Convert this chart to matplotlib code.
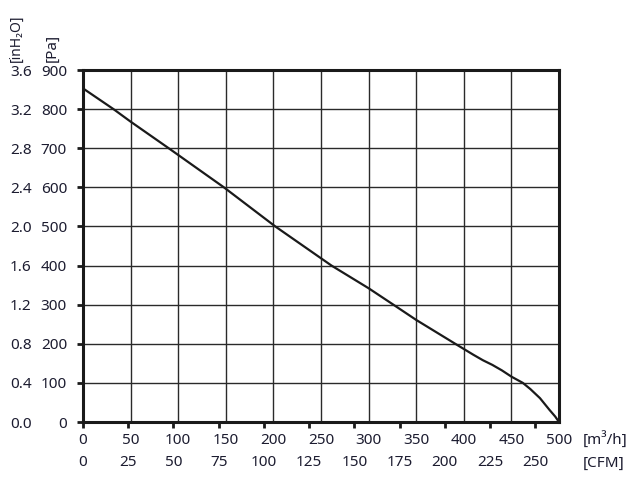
import matplotlib
matplotlib.use('Agg')
import matplotlib.pyplot as plt

plt.rcParams['font.family'] = ['Noto Sans', 'DejaVu Sans']
plt.rcParams['font.size'] = 11

txt = '#1c1c30'

# curve: airflow [m3/h] vs static pressure [Pa]
flow = [0, 32, 50, 90, 148, 202, 261, 300, 326, 350, 391, 410, 420, 430, 440, 450, 462, 470, 480, 490, 496, 500]
pa = [853, 800, 768, 700, 600, 500, 400, 342, 300, 261, 200, 172, 158, 146, 132, 116, 100, 84, 61, 31, 14, 0]

m3h_ticks = [0, 50, 100, 150, 200, 250, 300, 350, 400, 450, 500]
cfm_labels = [0, 25, 50, 75, 100, 125, 150, 175, 200, 225, 250]
cfm_pos = [c * 1.9 for c in cfm_labels]   # where the CFM labels sit on the m3/h scale
pa_ticks = [0, 100, 200, 300, 400, 500, 600, 700, 800, 900]
inh2o_ticks = [0.0, 0.4, 0.8, 1.2, 1.6, 2.0, 2.4, 2.8, 3.2, 3.6]

fig = plt.figure(figsize=(6.39, 4.8), dpi=100)
ax = fig.add_axes([83/639, 58/480, 476/639, 352/480])

ax.plot(flow, pa, color='#1a1a1a', lw=1.6, zorder=3, solid_joinstyle='round')

ax.set_xlim(0, 500)
ax.set_ylim(0, 900)

# m3/h labels on the grid lines, no tick marks
ax.set_xticks(m3h_ticks)
ax.set_xticklabels([str(v) for v in m3h_ticks])
ax.tick_params(axis='x', which='major', length=0, pad=8, colors=txt)
# CFM labels with the visible tick marks
ax.xaxis.remove_overlapping_locs = False
ax.set_xticks(cfm_pos, minor=True)
ax.set_xticklabels([str(v) for v in cfm_labels], minor=True)
ax.tick_params(axis='x', which='minor', length=4.5, width=2, direction='out',
               pad=19, labelsize=11, labelcolor=txt, color='#1a1a1a')

ax.set_yticks(pa_ticks)
ax.set_yticklabels([str(v) for v in pa_ticks])
ax.tick_params(axis='y', length=4.5, width=2, direction='out', pad=7,
               labelcolor=txt, color='#1a1a1a')

sec = ax.secondary_yaxis(0, functions=(lambda p: p * 0.004, lambda i: i / 0.004))
sec.set_yticks(inh2o_ticks)
sec.set_yticklabels([f'{v:.1f}' for v in inh2o_ticks])
sec.tick_params(length=0, pad=37, labelcolor=txt, labelsize=11)
sec.spines['left'].set_visible(False)

ax.grid(True, color='#2a2a2a', lw=1.0)
for s in ax.spines.values():
    s.set_linewidth(2.2)
    s.set_color('#1a1a1a')
    s.set_zorder(4)

fig.text(16/639, 1 - 62/480, '[inH\u2082O]', rotation=90, ha='center', va='bottom', color=txt, fontsize=10)
fig.text(52/639, 1 - 62/480, '[Pa]', rotation=90, ha='center', va='bottom', color=txt, fontsize=11)
fig.text(583/639, 1 - 440/480, '[m\u00b3/h]', ha='left', va='center', color=txt, fontsize=11)
fig.text(583/639, 1 - 463/480, '[CFM]', ha='left', va='center', color=txt, fontsize=11)

fig.savefig('out.png', dpi=100)
